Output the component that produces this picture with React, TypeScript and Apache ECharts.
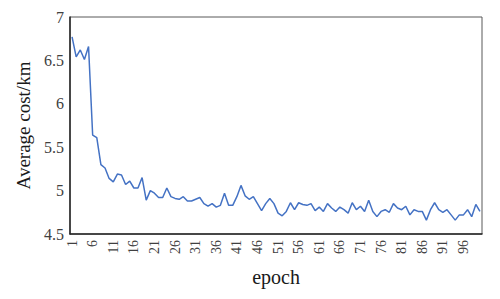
import React, { useEffect, useRef } from "react";
import * as echarts from "echarts";

const epochs: string[] = Array.from({ length: 100 }, (_, i) => String(i + 1));

const avgCost: number[] = [
  6.77, 6.54, 6.62, 6.51, 6.66, 5.64, 5.61, 5.30, 5.26, 5.14,
  5.10, 5.19, 5.18, 5.07, 5.11, 5.03, 5.03, 5.15, 4.89, 5.00,
  4.97, 4.92, 4.92, 5.03, 4.93, 4.91, 4.90, 4.93, 4.88, 4.88,
  4.90, 4.92, 4.85, 4.82, 4.85, 4.81, 4.83, 4.97, 4.83, 4.83,
  4.93, 5.06, 4.94, 4.90, 4.93, 4.85, 4.77, 4.85, 4.91, 4.85,
  4.74, 4.71, 4.76, 4.86, 4.78, 4.86, 4.84, 4.83, 4.85, 4.77,
  4.81, 4.76, 4.85, 4.80, 4.76, 4.81, 4.78, 4.74, 4.86, 4.78,
  4.82, 4.76, 4.89, 4.76, 4.70, 4.76, 4.78, 4.75, 4.85, 4.80,
  4.78, 4.82, 4.72, 4.78, 4.76, 4.76, 4.66, 4.78, 4.86, 4.78,
  4.75, 4.78, 4.72, 4.66, 4.72, 4.72, 4.78, 4.70, 4.84, 4.76,
];

const FONT = "Liberation Serif";

export default function App() {
  const ref = useRef<HTMLDivElement>(null);
  useEffect(() => {
    if (!ref.current) return;
    const chart = echarts.init(ref.current, undefined, { renderer: "svg" });
    chart.setOption({
      animation: false,
      backgroundColor: "#ffffff",
      textStyle: { fontFamily: FONT },
      grid: {
        left: 70,
        right: 18,
        top: 17,
        bottom: 65,
        show: true,
        borderColor: "#595959",
        borderWidth: 1,
      },
      xAxis: {
        type: "category",
        data: epochs,
        boundaryGap: true,
        name: "epoch",
        nameLocation: "middle",
        nameGap: 33,
        nameTextStyle: { fontFamily: FONT, fontSize: 20, color: "#1a1a1a" },
        axisLine: { lineStyle: { color: "#262626", width: 1.5 } },
        axisTick: { show: false },
        axisLabel: {
          interval: 4,
          rotate: 90,
          fontFamily: FONT,
          fontSize: 14,
          color: "#404040",
          margin: 6,
        },
        splitLine: { show: false },
      },
      yAxis: {
        type: "value",
        min: 4.5,
        max: 7,
        interval: 0.5,
        name: "Average cost/km",
        nameLocation: "middle",
        nameGap: 36,
        nameTextStyle: { fontFamily: FONT, fontSize: 19, color: "#1a1a1a" },
        axisLine: { show: true, lineStyle: { color: "#262626", width: 1.5 } },
        axisTick: { show: false },
        axisLabel: {
          fontFamily: FONT,
          fontSize: 16,
          color: "#404040",
          margin: 6,
        },
        splitLine: { show: false },
      },
      series: [
        {
          type: "line",
          data: avgCost,
          symbol: "none",
          lineStyle: { color: "#4472C4", width: 1.5 },
        },
      ],
    });
    return () => chart.dispose();
  }, []);
  return (
    <div
      ref={ref}
      style={{ position: "fixed", left: 0, top: 0, width: 500, height: 299, background: "#fff" }}
    />
  );
}
